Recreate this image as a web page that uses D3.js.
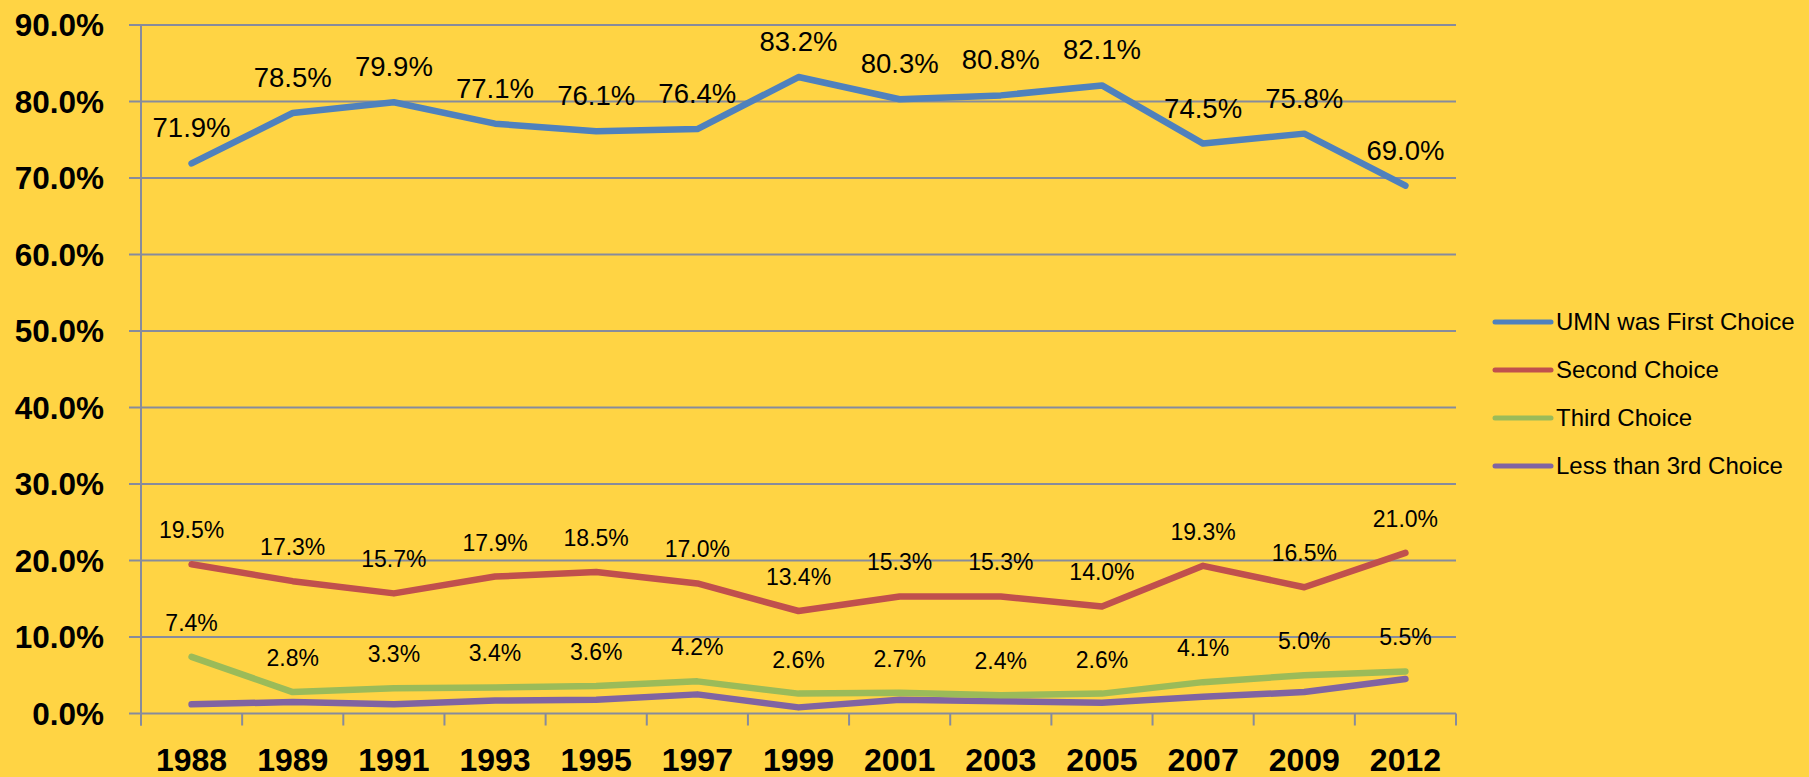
<!DOCTYPE html>
<html>
<head>
<meta charset="utf-8">
<script src="https://cdn.jsdelivr.net/npm/d3@7"></script>
<style>
  body { margin: 0; background: #FFD444; }
  svg { display: block; }
</style>
</head>
<body>
<div id="root"></div>
<script>
var years = ["1988", "1989", "1991", "1993", "1995", "1997", "1999", "2001", "2003", "2005", "2007", "2009", "2012"];
var firstChoice = [71.9, 78.5, 79.9, 77.1, 76.1, 76.4, 83.2, 80.3, 80.8, 82.1, 74.5, 75.8, 69.0];
var secondChoice = [19.5, 17.3, 15.7, 17.9, 18.5, 17.0, 13.4, 15.3, 15.3, 14.0, 19.3, 16.5, 21.0];
var thirdChoice = [7.4, 2.8, 3.3, 3.4, 3.6, 4.2, 2.6, 2.7, 2.4, 2.6, 4.1, 5.0, 5.5];
var lessThanThird = [1.2, 1.5, 1.2, 1.7, 1.8, 2.5, 0.8, 1.8, 1.6, 1.4, 2.2, 2.8, 4.5];
var seriesNames = ["UMN was First Choice", "Second Choice", "Third Choice", "Less than 3rd Choice"];
var yTicks = [0, 10, 20, 30, 40, 50, 60, 70, 80, 90];

function draw() {
var colors = ["#4F81BD", "#C0504D", "#9BBB59", "#8064A2"];
var series = [firstChoice, secondChoice, thirdChoice, lessThanThird];
// only the first three series carry data labels
var labelSize = [27.5, 23, 23, 0];

var w = 1809;
var h = 777;
var margin = {left: 141, right: 1456, top: 25, bottom: 713.5};
var gridColor = "#878B9C";

var svg = d3.select("#root").append("svg")
    .attr("width", w)
    .attr("height", h);

var x = d3.scaleBand().domain(years).range([margin.left, margin.right]);
var y = d3.scaleLinear().domain([0, 90]).range([margin.bottom, margin.top]);

// horizontal gridlines (they poke out left of the axis)
svg.selectAll("line.grid")
    .data(yTicks)
    .enter()
    .append("line")
    .attr("class", "grid")
    .attr("x1", margin.left - 12)
    .attr("x2", margin.right)
    .attr("y1", function(d) { return y(d); })
    .attr("y2", function(d) { return y(d); })
    .attr("stroke", gridColor)
    .attr("stroke-width", 2);

// vertical axis line
svg.append("line")
    .attr("x1", margin.left).attr("x2", margin.left)
    .attr("y1", y(90)).attr("y2", margin.bottom + 12)
    .attr("stroke", gridColor)
    .attr("stroke-width", 2);

// x tick marks between categories
var tickPos = years.map(function(d) { return x(d); }).concat([margin.right]);
svg.selectAll("line.xtick")
    .data(tickPos)
    .enter()
    .append("line")
    .attr("class", "xtick")
    .attr("x1", function(d) { return d; })
    .attr("x2", function(d) { return d; })
    .attr("y1", margin.bottom)
    .attr("y2", margin.bottom + 12)
    .attr("stroke", gridColor)
    .attr("stroke-width", 2);

// y labels
svg.selectAll("text.ylab")
    .data(yTicks)
    .enter()
    .append("text")
    .attr("class", "ylab")
    .text(function(d) { return d.toFixed(1) + "%"; })
    .attr("x", 104)
    .attr("y", function(d) { return y(d) + 11; })
    .attr("text-anchor", "end")
    .attr("font-family", "Liberation Sans, Arial, sans-serif")
    .attr("font-weight", "bold")
    .attr("font-size", "31.5px")
    .attr("fill", "#000");

// x labels
svg.selectAll("text.xlab")
    .data(years)
    .enter()
    .append("text")
    .attr("class", "xlab")
    .text(function(d) { return d; })
    .attr("x", function(d) { return x(d) + x.bandwidth() / 2; })
    .attr("y", 771)
    .attr("text-anchor", "middle")
    .attr("font-family", "Liberation Sans, Arial, sans-serif")
    .attr("font-weight", "bold")
    .attr("font-size", "32px")
    .attr("fill", "#000");

var line = d3.line()
    .x(function(d, i) { return x(years[i]) + x.bandwidth() / 2; })
    .y(function(d) { return y(d); });

// lines, drawn bottom series first
for (var s = series.length - 1; s >= 0; s--) {
    svg.append("path")
        .datum(series[s])
        .attr("d", line)
        .attr("fill", "none")
        .attr("stroke", colors[s])
        .attr("stroke-width", 6.5)
        .attr("stroke-linejoin", "round")
        .attr("stroke-linecap", "round");
}

// data labels
series.forEach(function(vals, s) {
    if (!labelSize[s]) return;
    svg.selectAll("text.lab" + s)
        .data(vals)
        .enter()
        .append("text")
        .attr("class", "lab" + s)
        .text(function(d) { return d.toFixed(1) + "%"; })
        .attr("x", function(d, i) { return x(years[i]) + x.bandwidth() / 2; })
        .attr("y", function(d) { return y(d) - 26; })
        .attr("text-anchor", "middle")
        .attr("font-family", "Liberation Sans, Arial, sans-serif")
        .attr("font-size", labelSize[s] + "px")
        .attr("fill", "#000");
});

// legend
var legend = svg.selectAll("g.legend")
    .data(seriesNames)
    .enter()
    .append("g")
    .attr("class", "legend")
    .attr("transform", function(d, i) { return "translate(1495," + (322 + i * 48) + ")"; });

legend.append("line")
    .attr("x1", 0).attr("x2", 56)
    .attr("y1", 0).attr("y2", 0)
    .attr("stroke", function(d, i) { return colors[i]; })
    .attr("stroke-width", 5)
    .attr("stroke-linecap", "round");

legend.append("text")
    .text(function(d) { return d; })
    .attr("x", 61)
    .attr("y", 8)
    .attr("font-family", "Liberation Sans, Arial, sans-serif")
    .attr("font-size", "24px")
    .attr("fill", "#000");
}

draw();
</script>
</body>
</html>
